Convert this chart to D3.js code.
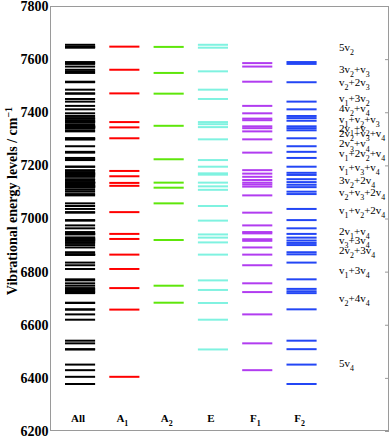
<!DOCTYPE html>
<meta charset="utf-8">
<title>Vibrational energy levels</title>
<script src="https://d3js.org/d3.v7.min.js"></script>
<style>
  body { margin: 0; background: #fff; }
  svg text { font-family: "Liberation Serif", "Times New Roman", serif; }
</style>

<div id="chart"></div>

<script>
  // levels per symmetry block (cm-1)
  var levelsA1 = [7647, 7560, 7471, 7363, 7343, 7302, 7179, 7159, 7134, 7123, 7024,
    6942, 6923, 6864, 6810, 6738, 6657, 6404];
  var levelsA2 = [7646, 7548, 7470, 7349, 7223, 7135, 7116, 7057, 6919, 6747, 6683];
  var levelsE = [7654, 7643, 7554, 7485, 7450, 7363, 7355, 7344, 7298, 7220, 7195, 7170,
    7165, 7135, 7121, 7108, 7047, 6992, 6940, 6928, 6910, 6864, 6767, 6731, 6682, 6619, 6507];
  var levelsF1 = [7585, 7572, 7515, 7424, 7396, 7376, 7370, 7347, 7340, 7328, 7298, 7248,
    7182, 7169, 7157, 7145, 7135, 7128, 7120, 7087, 7022, 6974, 6949, 6944, 6922, 6916,
    6891, 6864, 6824, 6756, 6723, 6639, 6530, 6429];
  var levelsF2 = [7589, 7582, 7513, 7440, 7411, 7386, 7378, 7368, 7347, 7340, 7332, 7302,
    7272, 7251, 7228, 7195, 7172, 7164, 7148, 7137, 7127, 7118, 7101, 7092, 7036, 6994,
    6963, 6942, 6928, 6917, 6908, 6900, 6873, 6865, 6834, 6771, 6735, 6726, 6719, 6658,
    6540, 6508, 6450, 6377];
  // "All" is just every level together
  var levelsAll = [].concat(levelsA1, levelsA2, levelsE, levelsF1, levelsF2);

  var columns = ["All", "A_1", "A_2", "E", "F_1", "F_2"];
  var columnLevels = [levelsAll, levelsA1, levelsA2, levelsE, levelsF1, levelsF2];
  var columnColors = ["#000000", "#ff0000", "#5ee60a", "#7ff2e0", "#b13cf0", "#2346f5"];

  var yTicks = [6200, 6400, 6600, 6800, 7000, 7200, 7400, 7600, 7800];

  // band assignments written at the right, with the energy they sit at
  var bandNames = ["5v_2", "3v_2+v_3", "v_2+2v_3", "v_1+3v_2", "4v_2+v_4", "v_1+v_2+v_3",
    "2v_1+v_2", "2v_2+v_3+v_4", "2v_3+v_4", "v_1+2v_2+v_4", "v_1+v_3+v_4", "3v_2+2v_4",
    "v_2+v_3+2v_4", "v_1+v_2+2v_4", "2v_1+v_4", "v_3+3v_4", "2v_2+3v_4", "v_1+3v_4",
    "v_2+4v_4", "5v_4"];
  var bandEnergies = [7647, 7562, 7513, 7455, 7415, 7375, 7342, 7322, 7283, 7248, 7195,
    7145, 7101, 7032, 6952, 6919, 6881, 6806, 6700, 6457];

  var width = 392, height = 438;
  var margin = { top: 6, right: 3, bottom: 7, left: 50 };

  var svg = d3.select("#chart").append("svg")
    .attr("width", width)
    .attr("height", height);

  var y = d3.scaleLinear()
    .domain([6200, 7800])
    .range([height - margin.bottom, margin.top]);

  var x = d3.scaleBand()
    .domain(columns)
    .range([57.9, 57.9 + 6 * 44.3])
    .paddingInner(0.32)
    .paddingOuter(0.16);

  // write a label with _n subscripts as tspans
  function richText(sel, str, size) {
    var parts = str.split(/_(\d)/), shift = 0;
    parts.forEach(function (p, i) {
      if (!p) return;
      var sub = i % 2 === 1;
      var target = sub ? size * 0.38 : 0;
      sel.append("tspan")
        .attr("dy", target - shift)
        .attr("font-size", sub ? size * 0.72 : size)
        .text(p);
      shift = target;
    });
  }

  // frame
  svg.append("rect")
    .attr("x", margin.left + 0.5)
    .attr("y", margin.top + 0.5)
    .attr("width", width - margin.left - margin.right - 1)
    .attr("height", height - margin.top - margin.bottom - 1)
    .attr("fill", "none")
    .attr("stroke", "#9a9a9a");

  // left axis labels
  var yAxis = svg.append("g")
    .attr("transform", "translate(" + margin.left + ",0)")
    .call(d3.axisLeft(y).tickValues(yTicks).tickSize(0).tickPadding(1.5).tickFormat(d3.format("d")));
  yAxis.select(".domain").remove();
  yAxis.selectAll("text")
    .attr("font-family", "Liberation Serif")
    .attr("font-size", 14)
    .attr("font-weight", "bold")
    .attr("fill", "#000");

  // right axis ticks pointing inward
  var yRight = svg.append("g")
    .attr("transform", "translate(" + (width - margin.right) + ",0)")
    .call(d3.axisRight(y).tickValues(yTicks).tickSize(-4).tickFormat(""));
  yRight.select(".domain").remove();
  yRight.selectAll("line").attr("stroke", "#9a9a9a");

  // level lines
  columns.forEach(function (c, i) {
    svg.append("g")
      .selectAll("line")
      .data(columnLevels[i])
      .enter().append("line")
      .attr("x1", x(c))
      .attr("x2", x(c) + x.bandwidth())
      .attr("y1", function (d) { return y(d); })
      .attr("y2", function (d) { return y(d); })
      .attr("stroke", columnColors[i])
      .attr("stroke-width", 2);
  });

  // column names
  columns.forEach(function (c) {
    var t = svg.append("text")
      .attr("x", x(c) + x.bandwidth() / 2 - 2)
      .attr("y", 422)
      .attr("text-anchor", "middle")
      .attr("font-weight", "bold")
      .attr("font-size", 11);
    richText(t, c, 11);
  });

  // band assignments
  bandNames.forEach(function (b, i) {
    var t = svg.append("text")
      .attr("x", 339)
      .attr("y", y(bandEnergies[i]) + 4)
      .attr("font-size", 11);
    richText(t, b, 11);
  });

  // y axis title
  var title = svg.append("text")
    .attr("transform", "translate(17,201) rotate(-90)")
    .attr("text-anchor", "middle")
    .attr("font-weight", "bold")
    .attr("font-size", 14);
  title.append("tspan").text("Vibrational energy levels / cm");
  title.append("tspan").attr("dy", -5).attr("font-size", 10).text("\u22121");
</script>
